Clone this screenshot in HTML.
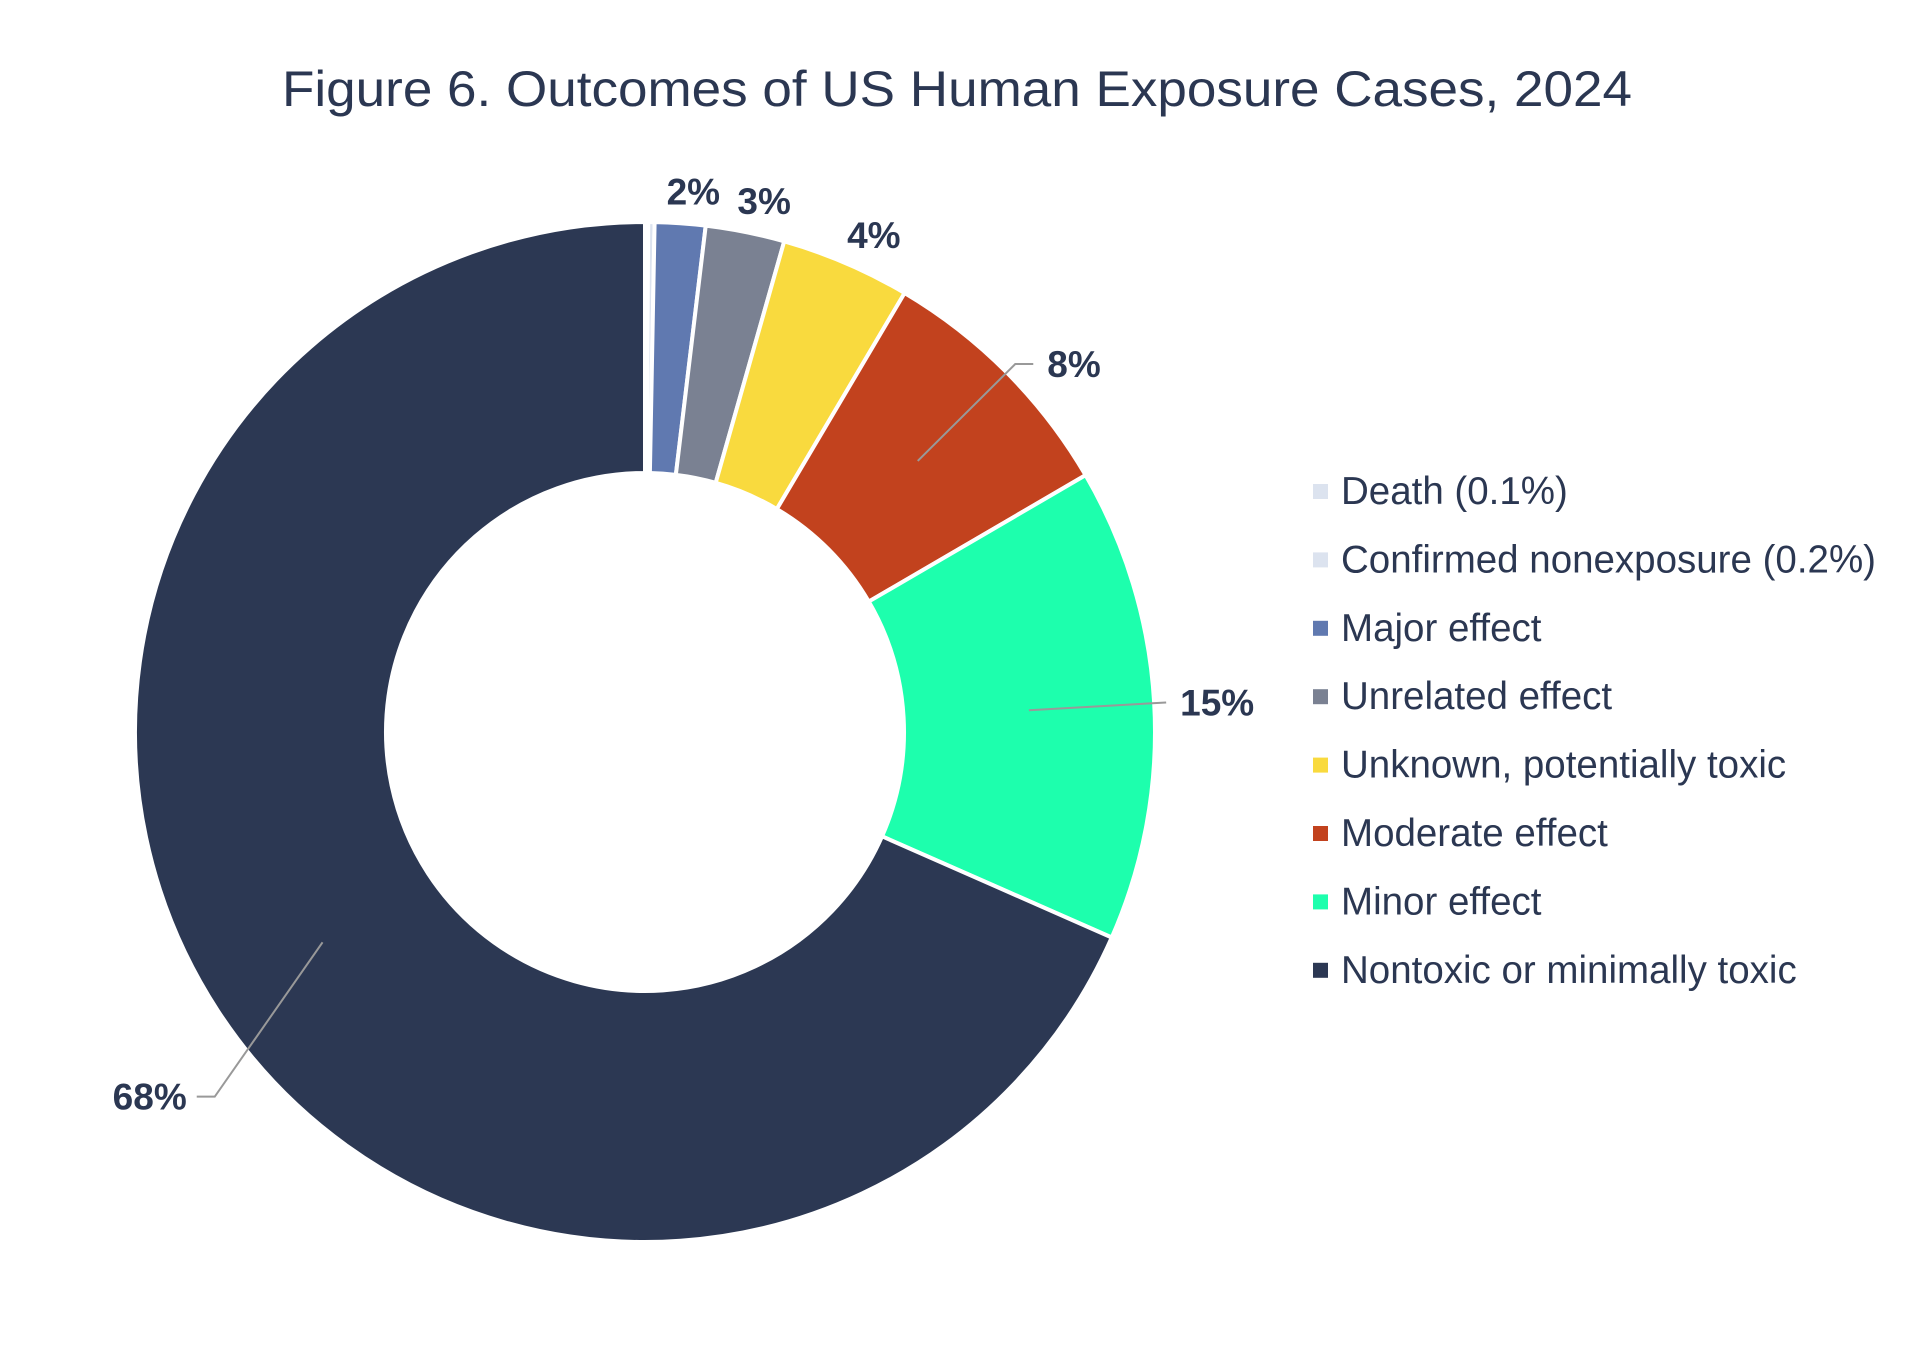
<!DOCTYPE html>
<html><head><meta charset="utf-8"><style>
html,body{margin:0;padding:0;background:#fff;}
svg{display:block;font-family:"Liberation Sans",sans-serif;}
</style></head><body>
<svg id="chart" width="1920" height="1366" viewBox="0 0 1920 1366">
<text x="957" y="106" text-anchor="middle" font-size="50" fill="#2b3752" textLength="1350" lengthAdjust="spacingAndGlyphs">Figure 6. Outcomes of US Human Exposure Cases, 2024</text>
<g id="slices"></g>
<g id="labels"></g>
<g id="legend"></g>
</svg>
<script>
const categories=["Death (0.1%)","Confirmed nonexposure (0.2%)","Major effect","Unrelated effect","Unknown, potentially toxic","Moderate effect","Minor effect","Nontoxic or minimally toxic"];
const values=[0.1,0.2,1.6,2.5,4.1,8.1,15.0,68.4];
const pctLabels=["","","2%","3%","4%","8%","15%","68%"];
const colors=["#dce3ef","#dce3ef","#6079b0","#7a8192","#f9da3e","#c2421e","#1dffad","#2c3853"];
const NS="http://www.w3.org/2000/svg";
const cx=645,cy=732,R=510,r=259;
const total=values.reduce((a,b)=>a+b,0);
function ang(v){return v/total*2*Math.PI;}
function pt(a,rad){return [cx+rad*Math.sin(a),cy-rad*Math.cos(a)];}
const gS=document.getElementById('slices');
let acc=0;
const mids=[];
values.forEach((v,i)=>{
  const a0=ang(acc),a1=ang(acc+v);acc+=v;
  mids.push((a0+a1)/2);
  const large=(a1-a0)>Math.PI?1:0;
  const p0=pt(a0,R),p1=pt(a1,R),p2=pt(a1,r),p3=pt(a0,r);
  const p=document.createElementNS(NS,'path');
  p.setAttribute('d',`M${p0[0]},${p0[1]} A${R},${R} 0 ${large} 1 ${p1[0]},${p1[1]} L${p2[0]},${p2[1]} A${r},${r} 0 ${large} 0 ${p3[0]},${p3[1]} Z`);
  p.setAttribute('fill',colors[i]);
  p.setAttribute('stroke','#fff');
  p.setAttribute('stroke-width','4');
  
  
  gS.appendChild(p);
});
const gL=document.getElementById('labels');
function txt(parent,x,y,s,size,weight,anchor){
  const t=document.createElementNS(NS,'text');
  t.setAttribute('x',x);t.setAttribute('y',y);
  t.setAttribute('font-size',size);t.setAttribute('font-weight',weight);
  t.setAttribute('fill','#2b3752');t.setAttribute('text-anchor',anchor);
  t.textContent=s;parent.appendChild(t);return t;
}
function line(pts){
  const l=document.createElementNS(NS,'polyline');
  l.setAttribute('points',pts.map(p=>p.join(',')).join(' '));
  l.setAttribute('fill','none');l.setAttribute('stroke','#999');l.setAttribute('stroke-width','2');
  
  
  gL.appendChild(l);
}
values.forEach((v,i)=>{
  if(!pctLabels[i])return;
  const m=mids[i];
  let t;
  if(v<6){
    const p=pt(m,R+45);
    t=txt(gL,p[0]+10,p[1]+26,pctLabels[i],37,'bold','middle');
  } else {
    const big=v>50;
    const inner=pt(m,big?385:(R+r)/2);
    const outer=big?pt(m-0.125,564):pt(m,R+12);
    const right=Math.sin(m)>=0;
    const ext=Math.abs(Math.cos(m))<0.2?0:18;
    const ex=right?outer[0]+ext:outer[0]-ext;
    line([inner,outer,[ex,outer[1]]]);
    t=txt(gL,right?ex+14:ex-10,outer[1]+13,pctLabels[i],37,'bold',right?'start':'end');
  }
  
  
});
const gG=document.getElementById('legend');
categories.forEach((c,i)=>{
  const y=491+i*68.4;
  const g=document.createElementNS(NS,'g');
  
  
  const s=document.createElementNS(NS,'rect');
  s.setAttribute('x',1313);s.setAttribute('y',y-7);s.setAttribute('width',15);s.setAttribute('height',15);
  s.setAttribute('fill',colors[i]);
  
  
  g.appendChild(s);
  const t=txt(g,1341,y+13,c,38.5,'normal','start');
  
  
  gG.appendChild(g);
});
</script>
</body></html>
